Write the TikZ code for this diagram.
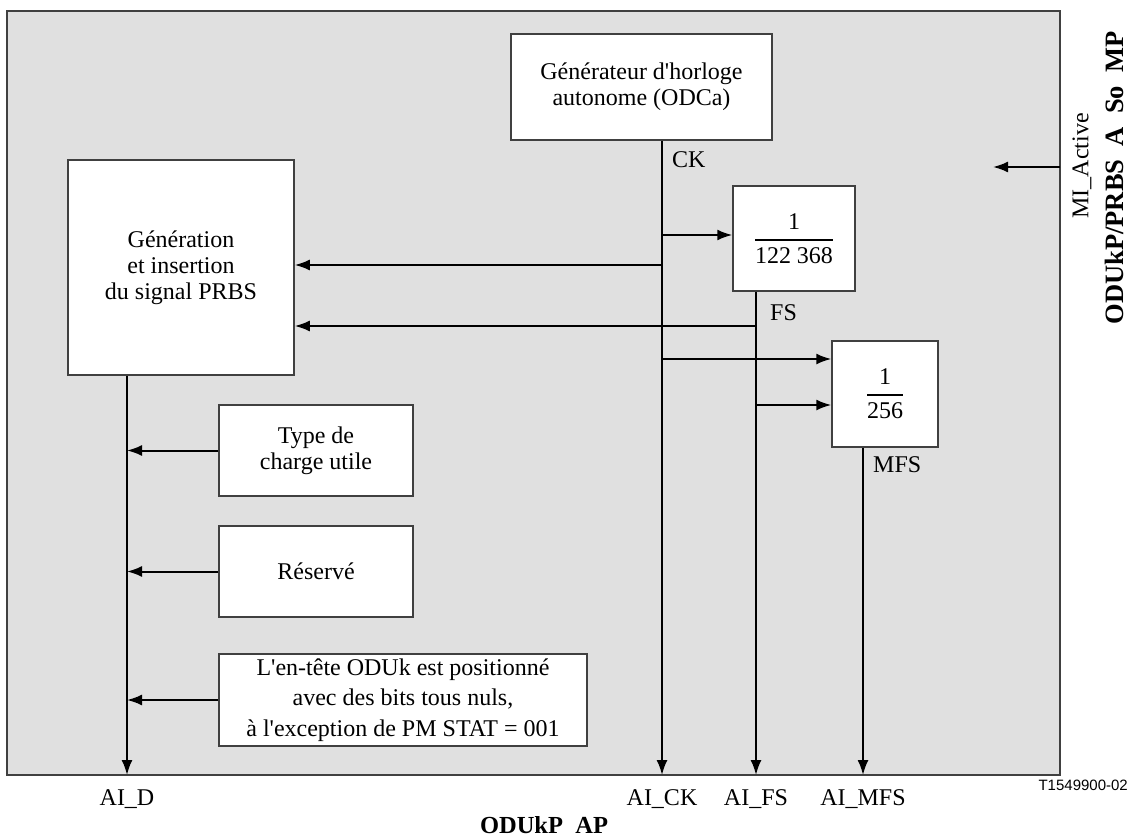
\documentclass[tikz,border=0pt]{standalone}
\usepackage{amsmath}
\usepackage{fontspec}
\setmainfont{Liberation Serif}
\newfontfamily\tagfont{Liberation Sans}
\usetikzlibrary{positioning}
\usetikzlibrary{arrows.meta}
\definecolor{panel}{RGB}{224,224,224}
\definecolor{edge}{RGB}{64,64,64}
\newcommand{\divby}[1]{$\genfrac{}{}{2pt}{0}{\text{1}}{\text{#1}}$}
\newcommand{\gap}{\hspace{0.5em}}

\tikzset{
  block/.style={draw=edge, line width=1.5pt, fill=white, align=center, inner sep=0pt},
  signal/.style={->, line width=2pt},
  tag/.style={inner sep=0pt}
}

\begin{document}
\begin{tikzpicture}[x=1pt, y=-1pt, >={Latex[length=15pt,width=11pt]}, font=\fontsize{24}{26}\selectfont]
    \useasboundingbox (0,0) rectangle (1130,837);
    \draw[draw=edge, line width=1.5pt, fill=panel] (7,11) rectangle (1060,775);
    % Blocks
    \node[block, minimum width=261pt, minimum height=106pt] (gen) at (641.5,87) {G\'en\'erateur d\textquotesingle horloge\\autonome (ODCa)};
    \node[block, minimum width=226pt, minimum height=215pt] (prbs) at (181,267.5) {G\'en\'eration\\et insertion\\du signal PRBS};
    \node[block, minimum width=122pt, minimum height=105pt] (fsdiv) at (794,238.5) {\divby{122 368}};
    \node[block, minimum width=106pt, minimum height=106pt] (mfsdiv) at (885,394) {\divby{256}};
    \node[block, minimum width=194pt, minimum height=91pt] (type) at (316,450.5) {Type de\\charge utile};
    \node[block, minimum width=194pt, minimum height=91pt] (res) at (316,571.5) {R\'eserv\'e};
    \node[block, minimum width=368pt, minimum height=92pt, font=\fontsize{24}{30.5}\selectfont] (head) at (403,700) {L\textquotesingle en-t\^ete ODUk est positionn\'e\\avec des bits tous nuls,\\\`a l\textquotesingle exception de PM STAT = 001};
    % Line ends on the frame
    \coordinate (dend) at (127,775);
    \coordinate (ckend) at (662,775);
    \coordinate (fsend) at (756,775);
    \coordinate (mfsend) at (863,775);
    \coordinate (tapfs) at (662,235);
    \coordinate (tapck) at (662,265);
    \coordinate (tapfr) at (756,326);
    \coordinate (tapmck) at (662,359);
    \coordinate (tapmfs) at (756,405);
    \coordinate (mi) at (1060,167);
    \coordinate (miend) at (993,167);
    % Signals
    \draw[signal] (gen.south -| ckend) -- (ckend);
    \draw[signal] (fsdiv.south -| fsend) -- (fsend);
    \draw[signal] (mfsdiv.south -| mfsend) -- (mfsend);
    \draw[signal] (prbs.south -| dend) -- (dend);
    \draw[signal] (tapfs) -- (tapfs -| fsdiv.west);
    \draw[signal] (tapck) -- (tapck -| prbs.east);
    \draw[signal] (tapfr) -- (tapfr -| prbs.east);
    \draw[signal] (tapmck) -- (tapmck -| mfsdiv.west);
    \draw[signal] (tapmfs) -- (tapmfs -| mfsdiv.west);
    \draw[signal] (type.west) -- (type.west -| dend);
    \draw[signal] (res.west) -- (res.west -| dend);
    \draw[signal] (head.west) -- (head.west -| dend);
    \draw[signal] (mi) -- (miend);
    % Labels
    \node[tag, anchor=west] (ck) at (672,160) {CK};
    \node[tag, anchor=west] (fs) at (770,313) {FS};
    \node[tag, anchor=west] (mfs) at (873,465) {MFS};
    \node (aid) at (127,799) {AI\_D};
    \node (aick) at (662,799) {AI\_CK};
    \node (aifs) at (756,799) {AI\_FS};
    \node (aimfs) at (863,799) {AI\_MFS};
    \node[tag, font=\bfseries\fontsize{24.5}{26}\selectfont] (ap) at (544,825) {ODUkP\gap AP};
    \node[tag, anchor=east, font=\tagfont\fontsize{15}{17}\selectfont] (fig) at (1128,785) {T1549900-02};
    \node[rotate=90] (act) at (1082,166) {MI\_Active};
    \node[rotate=90, font=\bfseries\fontsize{26.5}{28}\selectfont] (mp) at (1114,178) {ODUkP/PRBS\gap A\gap So\gap MP};
\end{tikzpicture}
\end{document}
